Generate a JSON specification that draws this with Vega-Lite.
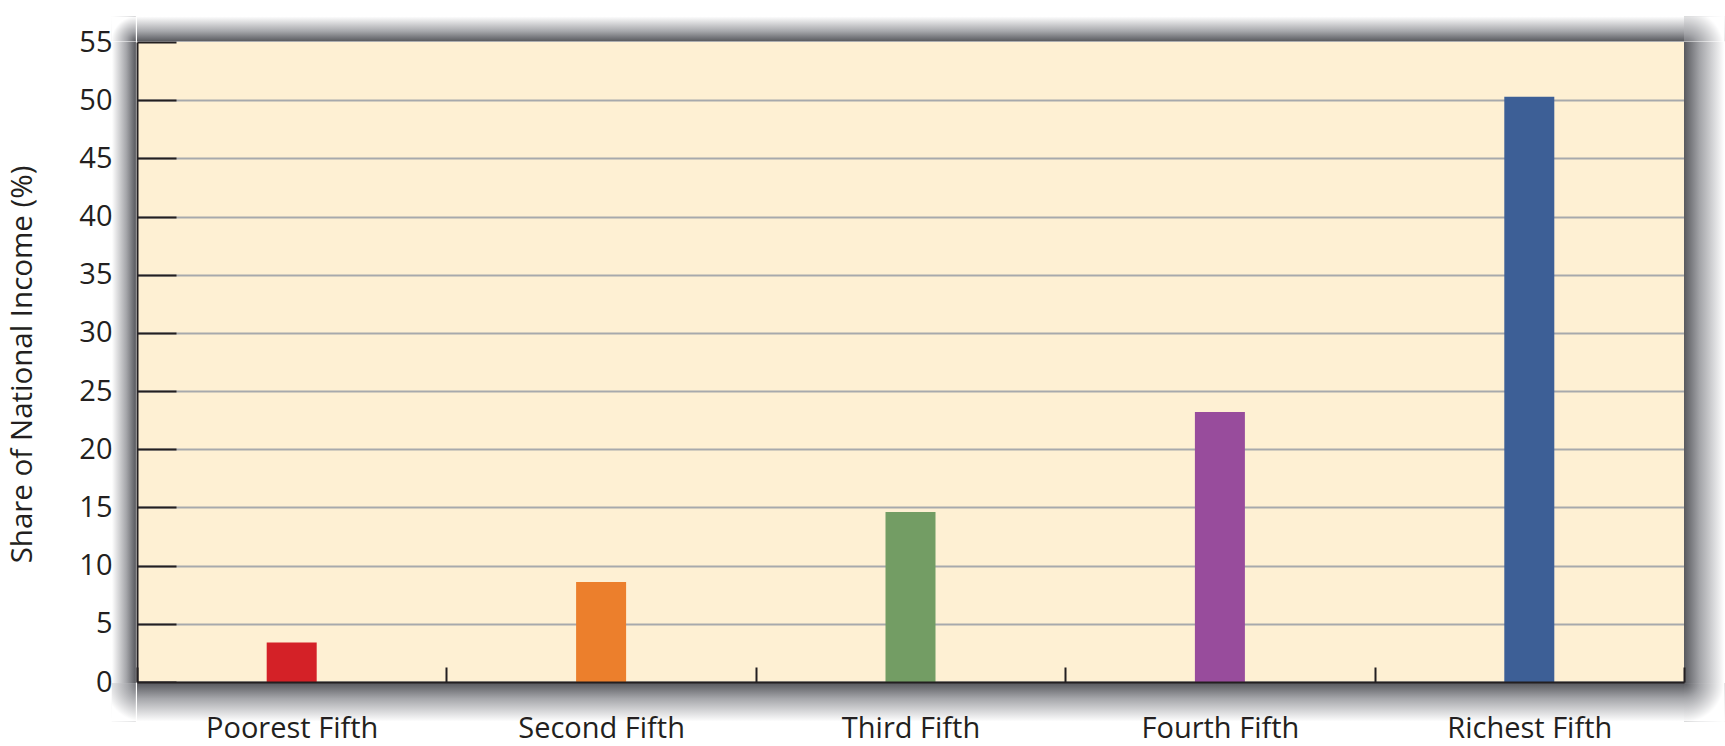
{
  "$schema": "https://vega.github.io/schema/vega-lite/v6.json",
  "width": 1547,
  "height": 640,
  "autosize": {"type": "none"},
  "padding": {"left": 137, "top": 42, "right": 41, "bottom": 64},
  "background": "white",
  "config": {
    "view": {"fill": "#FEF0D3", "stroke": null},
    "font": "Open Sans"
  },
  "data": {
    "values": [
      {"group": "Poorest Fifth", "share": 3.4},
      {"group": "Second Fifth", "share": 8.6},
      {"group": "Third Fifth", "share": 14.6},
      {"group": "Fourth Fifth", "share": 23.2},
      {"group": "Richest Fifth", "share": 50.3}
    ]
  },
  "layer": [
    {
      "data": {"values": [{}]},
      "mark": {"type": "rect", "color": {"gradient": "linear", "x1": 0, "y1": 1, "x2": 0, "y2": 0, "stops": [{"offset": 0, "color": "#58595e"}, {"offset": 0.4, "color": "#a5a6aa"}, {"offset": 1, "color": "#ffffff"}]}},
      "encoding": {
        "x": {"datum": 0, "type": "quantitative", "scale": {"domain": [0, 1]}, "axis": null},
        "x2": {"datum": 1},
        "y": {"datum": 55.05, "type": "quantitative", "scale": {"domain": [0, 55], "nice": false}, "axis": null},
        "y2": {"datum": 57.2}
      }
    },
    {
      "data": {"values": [{}]},
      "mark": {"type": "rect", "color": {"gradient": "linear", "x1": 0, "y1": 0, "x2": 0, "y2": 1, "stops": [{"offset": 0, "color": "#58595e"}, {"offset": 0.4, "color": "#a5a6aa"}, {"offset": 1, "color": "#ffffff"}]}},
      "encoding": {
        "x": {"datum": 0, "type": "quantitative", "scale": {"domain": [0, 1]}, "axis": null},
        "x2": {"datum": 1},
        "y": {"datum": -0.09, "type": "quantitative", "scale": {"domain": [0, 55], "nice": false}, "axis": null},
        "y2": {"datum": -3.4}
      }
    },
    {
      "data": {"values": [{}]},
      "mark": {"type": "rect", "color": {"gradient": "linear", "x1": 1, "y1": 0, "x2": 0, "y2": 0, "stops": [{"offset": 0, "color": "#58595e"}, {"offset": 0.4, "color": "#a5a6aa"}, {"offset": 1, "color": "#ffffff"}]}},
      "encoding": {
        "x": {"datum": -0.0162, "type": "quantitative", "scale": {"domain": [0, 1]}, "axis": null},
        "x2": {"datum": -0.0007},
        "y": {"datum": -0.09, "type": "quantitative", "scale": {"domain": [0, 55], "nice": false}, "axis": null},
        "y2": {"datum": 55.05}
      }
    },
    {
      "data": {"values": [{}]},
      "mark": {"type": "rect", "color": {"gradient": "linear", "x1": 0, "y1": 0, "x2": 1, "y2": 0, "stops": [{"offset": 0, "color": "#58595e"}, {"offset": 0.4, "color": "#a5a6aa"}, {"offset": 1, "color": "#ffffff"}]}},
      "encoding": {
        "x": {"datum": 1, "type": "quantitative", "scale": {"domain": [0, 1]}, "axis": null},
        "x2": {"datum": 1.026},
        "y": {"datum": -0.09, "type": "quantitative", "scale": {"domain": [0, 55], "nice": false}, "axis": null},
        "y2": {"datum": 55.05}
      }
    },
    {
      "data": {"values": [{}]},
      "mark": {"type": "rect", "color": {"gradient": "radial", "x1": 1, "y1": 1, "r1": 0, "x2": 1, "y2": 1, "r2": 1, "stops": [{"offset": 0, "color": "#58595e"}, {"offset": 0.4, "color": "#a5a6aa"}, {"offset": 1, "color": "#ffffff"}]}},
      "encoding": {
        "x": {"datum": -0.0162, "type": "quantitative", "scale": {"domain": [0, 1]}, "axis": null},
        "x2": {"datum": -0.0007},
        "y": {"datum": 55.05, "type": "quantitative", "scale": {"domain": [0, 55], "nice": false}, "axis": null},
        "y2": {"datum": 57.2}
      }
    },
    {
      "data": {"values": [{}]},
      "mark": {"type": "rect", "color": {"gradient": "radial", "x1": 0, "y1": 1, "r1": 0, "x2": 0, "y2": 1, "r2": 1, "stops": [{"offset": 0, "color": "#58595e"}, {"offset": 0.4, "color": "#a5a6aa"}, {"offset": 1, "color": "#ffffff"}]}},
      "encoding": {
        "x": {"datum": 1, "type": "quantitative", "scale": {"domain": [0, 1]}, "axis": null},
        "x2": {"datum": 1.026},
        "y": {"datum": 55.05, "type": "quantitative", "scale": {"domain": [0, 55], "nice": false}, "axis": null},
        "y2": {"datum": 57.2}
      }
    },
    {
      "data": {"values": [{}]},
      "mark": {"type": "rect", "color": {"gradient": "radial", "x1": 1, "y1": 0, "r1": 0, "x2": 1, "y2": 0, "r2": 1, "stops": [{"offset": 0, "color": "#58595e"}, {"offset": 0.4, "color": "#a5a6aa"}, {"offset": 1, "color": "#ffffff"}]}},
      "encoding": {
        "x": {"datum": -0.0162, "type": "quantitative", "scale": {"domain": [0, 1]}, "axis": null},
        "x2": {"datum": -0.0007},
        "y": {"datum": -0.09, "type": "quantitative", "scale": {"domain": [0, 55], "nice": false}, "axis": null},
        "y2": {"datum": -3.4}
      }
    },
    {
      "data": {"values": [{}]},
      "mark": {"type": "rect", "color": {"gradient": "radial", "x1": 0, "y1": 0, "r1": 0, "x2": 0, "y2": 0, "r2": 1, "stops": [{"offset": 0, "color": "#58595e"}, {"offset": 0.4, "color": "#a5a6aa"}, {"offset": 1, "color": "#ffffff"}]}},
      "encoding": {
        "x": {"datum": 1, "type": "quantitative", "scale": {"domain": [0, 1]}, "axis": null},
        "x2": {"datum": 1.026},
        "y": {"datum": -0.09, "type": "quantitative", "scale": {"domain": [0, 55], "nice": false}, "axis": null},
        "y2": {"datum": -3.4}
      }
    },
    {
      "mark": {"type": "bar", "width": 50},
      "encoding": {
        "x": {
          "field": "group",
          "type": "nominal",
          "sort": null,
          "scale": {"paddingInner": 0, "paddingOuter": 0},
          "axis": {
            "title": null,
            "zindex": 1,
            "labelAngle": 0,
            "labelFontSize": 29,
            "labelColor": "#231F20",
            "labelPadding": 47,
            "tickBand": "extent",
            "tickSize": -15,
            "tickColor": "#231F20",
            "tickWidth": 2,
            "domainColor": "#231F20",
            "domainWidth": 2,
            "grid": false
          }
        },
        "y": {
          "field": "share",
          "type": "quantitative",
          "scale": {"domain": [0, 55], "nice": false},
          "axis": {
            "values": [0, 5, 10, 15, 20, 25, 30, 35, 40, 45, 50, 55],
            "grid": true,
            "gridColor": {"condition": {"test": "datum.value === 55", "value": "transparent"}, "value": "#A7A9AC"},
            "gridWidth": 2,
            "tickSize": -39,
            "tickColor": "#231F20",
            "tickWidth": 2,
            "domainColor": "#231F20",
            "domainWidth": 2,
            "labelFontSize": 29,
            "labelColor": "#231F20",
            "labelPadding": 64,
            "title": "Share of National Income (%)",
            "titleFontSize": 29.5,
            "titleFontWeight": "normal",
            "titleColor": "#231F20",
            "titleX": -115,
            "titleY": 322,
            "titleAngle": -90,
            "titleBaseline": "middle",
            "titleAlign": "center"
          }
        },
        "color": {
          "field": "group",
          "type": "nominal",
          "sort": null,
          "scale": {
            "domain": ["Poorest Fifth", "Second Fifth", "Third Fifth", "Fourth Fifth", "Richest Fifth"],
            "range": ["#D42127", "#EC7F2C", "#739D64", "#984C9C", "#3D5F96"]
          },
          "legend": null
        }
      }
    }
  ],
  "resolve": {"scale": {"x": "independent", "y": "independent"}}
}
